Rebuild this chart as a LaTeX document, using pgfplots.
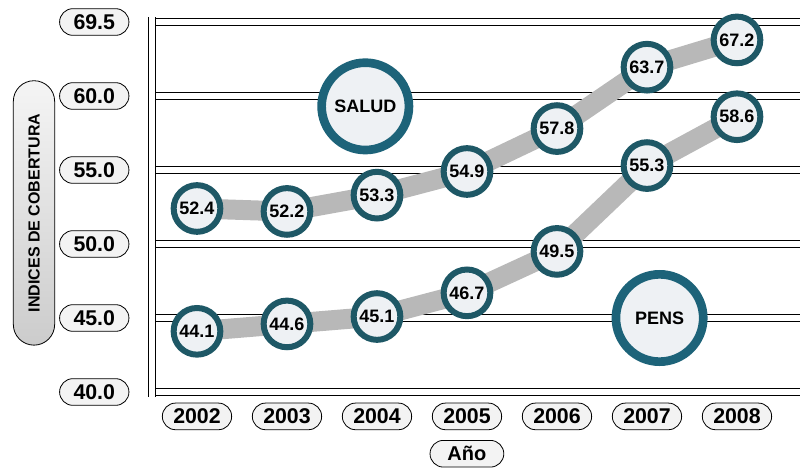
\documentclass[border=0pt]{standalone}
\usepackage{pgfplots}
\pgfplotsset{compat=1.18}
\usepackage{fontspec}
\setmainfont{Liberation Sans}
\usetikzlibrary{shapes.misc}
\definecolor{ring}{HTML}{1E5866}
\definecolor{bigring}{HTML}{1D6379}
\definecolor{band}{HTML}{B8B8B8}
\definecolor{cfill}{HTML}{EEF1F4}
\definecolor{pill}{HTML}{F3F3F3}
\begin{document}
\begin{tikzpicture}
\begin{axis}[
  at={(0pt,0pt)}, anchor=south west,
  scale only axis, width=486pt, height=277.5pt,
  xmin=2001.5, xmax=2008.7, ymin=40, ymax=69.5,
  y coord trafo/.code={\pgfmathparse{#1>60?60+(#1-60)*5/9.5:#1}},
  y coord inv trafo/.code={\pgfmathparse{#1>60?60+(#1-60)*9.5/5:#1}},
  axis line style={draw=none},
  major tick length=0pt,
  xtick={2002,2003,2004,2005,2006,2007,2008},
  xticklabels={2002,2003,2004,2005,2006,2007,2008},
  ytick={40,45,50,55,60,69.5},
  yticklabels={40.0,45.0,50.0,55.0,60.0,69.5},
  ymajorgrids,
  major grid style={draw=black, line width=0.7pt, double=white, double distance=4.5pt},
  clip=false,
  tick label style={font=\bfseries\fontsize{16}{16}\selectfont, rounded rectangle, draw=black, line width=0.6pt, fill=pill, minimum height=20pt, minimum width=60pt, inner xsep=4pt},
  yticklabel style={anchor=east, xshift=-17pt},
  xticklabel style={anchor=north, yshift=-8pt},
  xlabel={Año},
  xlabel style={at={(axis description cs:0.486,0)}, anchor=north, yshift=-36pt, rounded rectangle, draw=black, line width=0.6pt, fill=pill, font=\bfseries\fontsize{15}{15}\selectfont, minimum height=20pt, minimum width=62pt},
  ylabel={INDICES DE COBERTURA},
  ylabel style={at={(axis description cs:0,0.484)}, yshift=88.5pt, anchor=center, rounded rectangle, draw=black, line width=0.6pt, top color=gray!8, bottom color=gray!40, font=\bfseries\fontsize{12}{12}\selectfont, minimum width=205pt, minimum height=31pt},
]
\draw[draw=black, line width=0.7pt, double=white, double distance=4.5pt, shorten <=-3.5pt, shorten >=-3.5pt] (rel axis cs:0,0) -- (rel axis cs:0,1);
% connecting bands
\addplot[draw=band, line width=15pt, forget plot] coordinates {
  (2002,52.4) (2003,52.2) (2004,53.3) (2005,54.9) (2006,57.8) (2007,63.7) (2008,67.2)};
\addplot[draw=band, line width=15pt, forget plot] coordinates {
  (2002,44.1) (2003,44.6) (2004,45.1) (2005,46.7) (2006,49.5) (2007,55.3) (2008,58.6)};
% points
\addplot[only marks, mark=*, mark size=17.5pt, mark options={draw=ring, line width=4.5pt, fill=cfill},
  point meta=explicit symbolic, nodes near coords, nodes near coords align=center,
  every node near coord/.append style={anchor=center, font=\bfseries\fontsize{13.5}{13.5}\selectfont}]
  coordinates {
  (2002,52.4) [52.4] (2003,52.2) [52.2] (2004,53.3) [53.3] (2005,54.9) [54.9]
  (2006,57.8) [57.8] (2007,63.7) [63.7] (2008,67.2) [67.2]};
\addplot[only marks, mark=*, mark size=17.5pt, mark options={draw=ring, line width=4.5pt, fill=cfill},
  point meta=explicit symbolic, nodes near coords, nodes near coords align=center,
  every node near coord/.append style={anchor=center, font=\bfseries\fontsize{13.5}{13.5}\selectfont}]
  coordinates {
  (2002,44.1) [44.1] (2003,44.6) [44.6] (2004,45.1) [45.1] (2005,46.7) [46.7]
  (2006,49.5) [49.5] (2007,55.3) [55.3] (2008,58.6) [58.6]};
\node[circle, draw=bigring, line width=6.5pt, fill=cfill, minimum size=65.5pt, font=\bfseries\fontsize{13.5}{13.5}\selectfont] at (axis cs:2003.87,59.3) {SALUD};
\node[circle, draw=bigring, line width=6.5pt, fill=cfill, minimum size=65.5pt, font=\bfseries\fontsize{13.5}{13.5}\selectfont] at (axis cs:2007.14,45.0) {PENS};
\end{axis}
\pgfresetboundingbox
\path[use as bounding box] (-114pt,-57.75pt) rectangle (486pt,294pt);
\end{tikzpicture}
\end{document}
